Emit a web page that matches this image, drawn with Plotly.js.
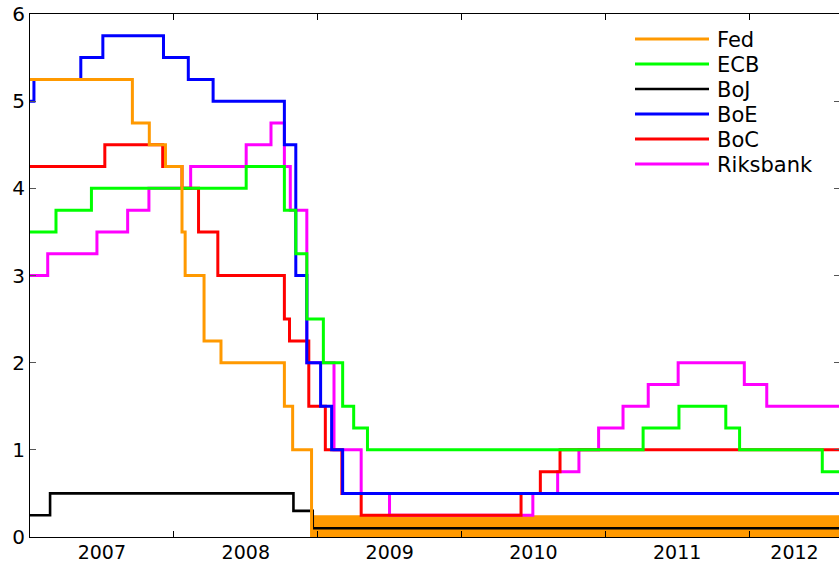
<!DOCTYPE html>
<html>
<head>
<meta charset="utf-8">
<script src="https://cdn.plot.ly/plotly-3.0.1.min.js"></script>
<style>
html,body{margin:0;padding:0;overflow:hidden;background:#fff;}
#chart{width:841px;height:565px;}
</style>
</head>
<body>
<div id="chart"></div>
<script>
// ---- Data (policy rates, %, step changes by announcement date) ----
const START = '2007-01-01';
const END = '2012-08-19';

const seriesNames  = ['Fed', 'ECB', 'BoJ', 'BoE', 'BoC', 'Riksbank'];
const seriesColors = ['#FF9900', '#00FF00', '#000000', '#0000FF', '#FF0000', '#FF00FF'];

const fedDates = ['2007-01-01','2007-09-18','2007-10-31','2007-12-11','2008-01-22','2008-01-30',
                  '2008-03-18','2008-04-30','2008-10-08','2008-10-29','2008-12-16'];
const fedRates = [5.25, 4.75, 4.50, 4.25, 3.50, 3.00, 2.25, 2.00, 1.50, 1.00, 0.00];

const fedRangeDates = ['2008-12-16', END];
const fedRangeUpper = [0.25, 0.25];

const ecbDates = ['2007-01-01','2007-03-08','2007-06-06','2008-07-03','2008-10-08','2008-11-06',
                  '2008-12-04','2009-01-15','2009-03-05','2009-04-02','2009-05-07','2011-04-07',
                  '2011-07-07','2011-11-03','2011-12-08','2012-07-05'];
const ecbRates = [3.50, 3.75, 4.00, 4.25, 3.75, 3.25, 2.50, 2.00, 1.50, 1.25, 1.00, 1.25,
                  1.50, 1.25, 1.00, 0.75];

const bojDates = ['2007-01-01','2007-02-21','2008-10-31','2008-12-19'];
const bojRates = [0.25, 0.50, 0.30, 0.10];

const boeDates = ['2007-01-01','2007-01-11','2007-05-10','2007-07-05','2007-12-06','2008-02-07',
                  '2008-04-10','2008-10-08','2008-11-06','2008-12-04','2009-01-08','2009-02-05',
                  '2009-03-05'];
const boeRates = [5.00, 5.25, 5.50, 5.75, 5.50, 5.25, 5.00, 4.50, 3.00, 2.00, 1.50, 1.00, 0.50];

const bocDates = ['2007-01-01','2007-07-10','2007-12-04','2008-01-22','2008-03-04','2008-04-22',
                  '2008-10-08','2008-10-21','2008-12-09','2009-01-20','2009-03-03','2009-04-21',
                  '2010-06-01','2010-07-20','2010-09-08'];
const bocRates = [4.25, 4.50, 4.25, 4.00, 3.50, 3.00, 2.50, 2.25, 1.50, 1.00, 0.50, 0.25,
                  0.50, 0.75, 1.00];

const riksDates = ['2007-01-01','2007-02-15','2007-06-20','2007-09-06','2007-10-30','2008-02-13',
                   '2008-07-03','2008-09-04','2008-10-08','2008-10-23','2008-12-04','2009-02-11',
                   '2009-04-21','2009-07-02','2010-07-01','2010-09-02','2010-10-26','2010-12-15',
                   '2011-02-15','2011-04-20','2011-07-05','2011-12-20','2012-02-15'];
const riksRates = [3.00, 3.25, 3.50, 3.75, 4.00, 4.25, 4.50, 4.75, 4.25, 3.75, 2.00, 1.00,
                   0.50, 0.25, 0.50, 0.75, 1.00, 1.25, 1.50, 1.75, 2.00, 1.75, 1.50];

const yearLabels = ['2007', '2008', '2009', '2010', '2011', '2012'];
const yearStarts = ['2007-01-01','2008-01-01','2009-01-01','2010-01-01','2011-01-01','2012-01-01'];

// ---- Helpers ----
function extendToEnd(dates, vals) {
  return { x: dates.concat([END]), y: vals.concat([vals[vals.length - 1]]) };
}
function toIso(ms) {
  return new Date(ms).toISOString().slice(0, 19).replace('T', ' ');
}
const endMs = Date.parse(END);
const labelPos = yearStarts.map((d, i) => {
  const a = Date.parse(d);
  const b = i < yearStarts.length - 1 ? Date.parse(yearStarts[i + 1]) : endMs;
  return toIso((a + b) / 2);
});

function stepTrace(name, data, rank, width) {
  const i = seriesNames.indexOf(name);
  return {
    type: 'scatter', mode: 'lines', name: name,
    x: data.x, y: data.y,
    line: { shape: 'hv', color: seriesColors[i], width: width || 3 },
    legendrank: rank
  };
}

const traces = [
  { type: 'scatter', mode: 'lines', x: fedRangeDates, y: fedRangeUpper,
    fill: 'tozeroy', fillcolor: seriesColors[0], line: { width: 0, color: seriesColors[0] },
    showlegend: false, hoverinfo: 'skip' },
  stepTrace('Riksbank', extendToEnd(riksDates, riksRates), 6),
  stepTrace('BoC', extendToEnd(bocDates, bocRates), 5),
  stepTrace('BoE', extendToEnd(boeDates, boeRates), 4),
  stepTrace('ECB', extendToEnd(ecbDates, ecbRates), 2),
  stepTrace('BoJ', extendToEnd(bojDates, bojRates), 3, 2.6),
  stepTrace('Fed', { x: fedDates, y: fedRates }, 1)
];

const layout = {
  width: 841, height: 565,
  margin: { l: 30, r: 1, t: 14, b: 28, pad: 0 },
  paper_bgcolor: '#fff', plot_bgcolor: '#fff',
  font: { family: 'DejaVu Sans, Liberation Sans, Arial, sans-serif', size: 20, color: '#000' },
  showlegend: true,
  legend: {
    x: 0.74, xanchor: 'left', y: 0.985, yanchor: 'top',
    bgcolor: 'rgba(0,0,0,0)', borderwidth: 0,
    font: { size: 21, color: '#000' },
    itemwidth: 77, traceorder: 'normal'
  },
  xaxis: {
    type: 'date', range: [START, END],
    showgrid: false, zeroline: false,
    showline: true, linecolor: '#000', linewidth: 1, mirror: 'ticks',
    tickmode: 'array', tickvals: labelPos, ticktext: yearLabels,
    ticks: '', ticklabelstandoff: -2,
    minor: { tickmode: 'array', tickvals: yearStarts.slice(1), ticks: 'inside',
             ticklen: 6, tickcolor: '#000', tickwidth: 1 },
    tickfont: { size: 19, color: '#000' }
  },
  yaxis: {
    range: [0, 6], dtick: 1, tick0: 0,
    showgrid: false, zeroline: false,
    showline: true, linecolor: '#000', linewidth: 1, mirror: 'ticks',
    ticks: 'inside', ticklen: 6, tickcolor: '#555', tickwidth: 1,
    tickfont: { size: 20, color: '#000' }
  },
  hovermode: false
};

Plotly.newPlot('chart', traces, layout, { staticPlot: true, displayModeBar: false }).then(function (gd) {
  // Match the reference legend geometry: long line samples, 25px row spacing.
  const lineStartX = 635, firstRowY = 39, rowGap = 25, lineLen = 74;
  const sb = gd.querySelector('.legend .scrollbox');
  if (sb) sb.removeAttribute('clip-path');
  const legendEl = gd.querySelector('.legend');
  if (legendEl) legendEl.removeAttribute('clip-path');
  gd.querySelectorAll('.legend .traces').forEach(function (item) {
    const txt = item.querySelector('.legendtext');
    const path = item.querySelector('.legendlines path');
    if (!txt || !path) return;
    const idx = seriesNames.indexOf(txt.textContent);
    if (idx < 0) return;
    const m = /translate\(\s*([-\d.e]+)[ ,]+([-\d.e]+)\s*\)/.exec(item.getAttribute('transform') || '');
    const tx = m ? parseFloat(m[1]) : 0, ty = m ? parseFloat(m[2]) : 0;
    const r = path.getBoundingClientRect();
    const dx = lineStartX - r.left;
    const dy = (firstRowY + idx * rowGap) - (r.top + r.height / 2);
    item.setAttribute('transform', 'translate(' + (tx + dx) + ',' + (ty + dy) + ')');
    path.setAttribute('d', 'M5,0h' + lineLen);
  });
});
</script>
</body>
</html>
